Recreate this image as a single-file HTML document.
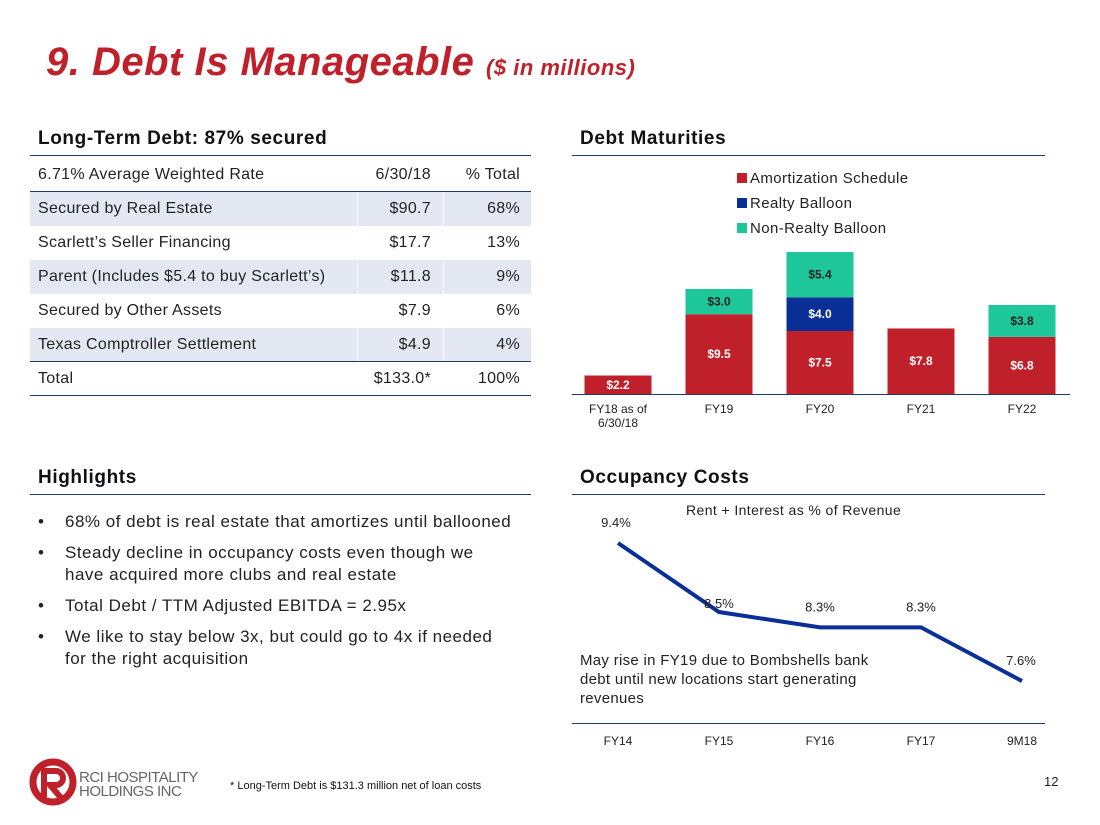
<!DOCTYPE html>
<html><head><meta charset="utf-8">
<style>
body{margin:0;width:1100px;height:825px;background:#fff;font-family:"Liberation Sans",Arial,sans-serif;position:relative;overflow:hidden}
.a{position:absolute;white-space:nowrap}
.sec{font-weight:bold;font-size:19px;color:#111;letter-spacing:0.6px}
.rule{position:absolute;height:1px;background:#1f3a6e}
.row{position:absolute;left:30px;width:501px;height:34px;font-size:16px;letter-spacing:0.3px;color:#222}
.row span{position:absolute;top:8px}
.c1{left:8px}.c2{right:100px}.c3{right:11px}
.sh{background:#e4e8f2}
.vl{position:absolute;top:0;bottom:0;width:1px;background:#fff}
.bul{font-size:17px;letter-spacing:0.5px;color:#222;line-height:22px}
</style></head><body>
<div class="a" style="left:46px;top:40px;font-size:40px;font-weight:bold;font-style:italic;color:#c0202a;letter-spacing:0.5px">9. Debt Is Manageable <span style="font-size:22px">($ in millions)</span></div>

<div class="a sec" style="left:38px;top:128px">Long-Term Debt: 87% secured</div>
<div class="rule" style="left:30px;top:155px;width:501px"></div>
<div>
<div class="row" style="top:158px"><span class="c1">6.71% Average Weighted Rate</span><span class="c2">6/30/18</span><span class="c3">% Total</span></div>
<div class="rule" style="left:30px;top:191px;width:501px"></div>
<div class="row sh" style="top:192px"><div class="vl" style="left:327px"></div><div class="vl" style="left:413px"></div><span class="c1">Secured by Real Estate</span><span class="c2">$90.7</span><span class="c3">68%</span></div>
<div class="row" style="top:226px"><span class="c1">Scarlett’s Seller Financing</span><span class="c2">$17.7</span><span class="c3">13%</span></div>
<div class="row sh" style="top:260px"><div class="vl" style="left:327px"></div><div class="vl" style="left:413px"></div><span class="c1">Parent (Includes $5.4 to buy Scarlett’s)</span><span class="c2">$11.8</span><span class="c3">9%</span></div>
<div class="row" style="top:294px"><span class="c1">Secured by Other Assets</span><span class="c2">$7.9</span><span class="c3">6%</span></div>
<div class="row sh" style="top:328px"><div class="vl" style="left:327px"></div><div class="vl" style="left:413px"></div><span class="c1">Texas Comptroller Settlement</span><span class="c2">$4.9</span><span class="c3">4%</span></div>
<div class="rule" style="left:30px;top:361px;width:501px"></div>
<div class="row" style="top:362px"><span class="c1">Total</span><span class="c2">$133.0*</span><span class="c3">100%</span></div>
<div class="rule" style="left:30px;top:395px;width:501px"></div>
</div>

<div class="a sec" style="left:580px;top:128px">Debt Maturities</div>
<div class="rule" style="left:572px;top:155px;width:473px"></div>
<svg id="bars" class="a" style="left:0;top:0" width="1100" height="450"></svg>

<div class="a sec" style="left:38px;top:467px">Highlights</div>
<div class="rule" style="left:30px;top:494px;width:501px"></div>
<div>
<div class="a bul" style="left:38px;top:511px">•</div><div class="a bul" style="left:65px;top:511px">68% of debt is real estate that amortizes until ballooned</div>
<div class="a bul" style="left:38px;top:542px">•</div><div class="a bul" style="left:65px;top:542px">Steady decline in occupancy costs even though we<br>have acquired more clubs and real estate</div>
<div class="a bul" style="left:38px;top:595px">•</div><div class="a bul" style="left:65px;top:595px">Total Debt / TTM Adjusted EBITDA = 2.95x</div>
<div class="a bul" style="left:38px;top:626px">•</div><div class="a bul" style="left:65px;top:626px">We like to stay below 3x, but could go to 4x if needed<br>for the right acquisition</div>
</div>

<div class="a sec" style="left:580px;top:467px">Occupancy Costs</div>
<div class="rule" style="left:572px;top:494px;width:473px"></div>
<div class="a" style="left:686px;top:502px;font-size:14px;letter-spacing:0.4px;color:#222">Rent + Interest as % of Revenue</div>
<svg id="line" class="a" style="left:0;top:0" width="1100" height="760"></svg>
<div class="a" style="left:580px;top:651px;font-size:15px;letter-spacing:0.3px;line-height:19px;color:#222">May rise in FY19 due to Bombshells bank<br>debt until new locations start generating<br>revenues</div>

<svg class="a" style="left:28px;top:757px" width="50" height="50"><circle cx="25" cy="25" r="20" fill="none" stroke="#c0202a" stroke-width="7"/><path d="M16 40 V14 H28 a7 7 0 0 1 0 14 H22 L34 42" fill="none" stroke="#c0202a" stroke-width="6"/></svg>
<div class="a" style="left:79px;top:771px;font-size:15px;line-height:14px;color:#666;letter-spacing:-0.5px">RCI HOSPITALITY<br>HOLDINGS INC</div>
<div class="a" style="left:230px;top:780px;font-size:11px;color:#111">* Long-Term Debt is $131.3 million net of loan costs</div>
<div class="a" style="left:1044px;top:774px;font-size:13px;color:#222">12</div>

<script>
const cats=["FY18 as of|6/30/18","FY19","FY20","FY21","FY22"];
const amort=[2.2,9.5,7.5,7.8,6.8];
const realty=[0,0,4.0,0,0];
const nonRealty=[0,3.0,5.4,0,3.8];
const NS="http://www.w3.org/2000/svg";
function mk(p,t,a){const e=document.createElementNS(NS,t);for(const k in a)e.setAttribute(k,a[k]);p.appendChild(e);return e;}
const sb=document.getElementById('bars');
const base=394,ppu=8.4,x0=618,step=101,bw=67;
const yS=v=>v*ppu, xS=i=>x0+i*step;
const series=[[amort,"#c0202a","#fff"],[realty,"#0a2f96","#fff"],[nonRealty,"#1ec79a","#222"]];
const names=["Amortization Schedule","Realty Balloon","Non-Realty Balloon"];
cats.forEach((c,i)=>{let acc=0;
 series.forEach(([arr,col,tc],s)=>{const v=arr[i];if(!v)return;
  const y=base-yS(acc+v);
  const r=mk(sb,'rect',{x:xS(i)-bw/2,y:y,width:bw,height:yS(v),fill:col});
  
  
  const t=mk(sb,'text',{x:xS(i),y:y+yS(v)/2+4,'text-anchor':'middle','font-size':12,'font-weight':'bold',fill:tc});
  t.textContent='$'+v.toFixed(1);
  
  
  acc+=v;});
 c.split('|').forEach((l,k)=>{const t=mk(sb,'text',{x:xS(i),y:413+k*14,'text-anchor':'middle','font-size':12,fill:'#222'});t.textContent=l;
  
  });
});
mk(sb,'line',{x1:572,x2:1070,y1:base+0.5,y2:base+0.5,stroke:'#1f3a6e'});
names.forEach((n,s)=>{const g=mk(sb,'g',{});
 
 
 mk(g,'rect',{x:737,y:173+s*25,width:10,height:10,fill:series[s][1]});
 const t=mk(g,'text',{x:750,y:183+s*25,'font-size':15,'letter-spacing':0.4,fill:'#222'});t.textContent=n;});

const lcats=["FY14","FY15","FY16","FY17","9M18"];
const occ=[9.4,8.5,8.3,8.3,7.6];
const sl=document.getElementById('line');
const ly=v=>543+(9.4-v)*76.7;
mk(sl,'polyline',{points:occ.map((v,i)=>xS(i)+','+ly(v)).join(' '),fill:'none',stroke:'#0a2f96','stroke-width':4});
occ.forEach((v,i)=>{const t=mk(sl,'text',{x:xS(i)+(i==0?-2:i==4?-1:0),y:ly(v)-(i==0?16:i==4?16:i==1?4:16),'text-anchor':'middle','font-size':13,fill:'#222'});t.textContent=v.toFixed(1)+'%';
 
 
 const l=mk(sl,'text',{x:xS(i),y:745,'text-anchor':'middle','font-size':12,fill:'#222'});l.textContent=lcats[i];
 
 });
mk(sl,'line',{x1:572,x2:1045,y1:723.5,y2:723.5,stroke:'#1f3a6e'});
</script>
</body></html>
